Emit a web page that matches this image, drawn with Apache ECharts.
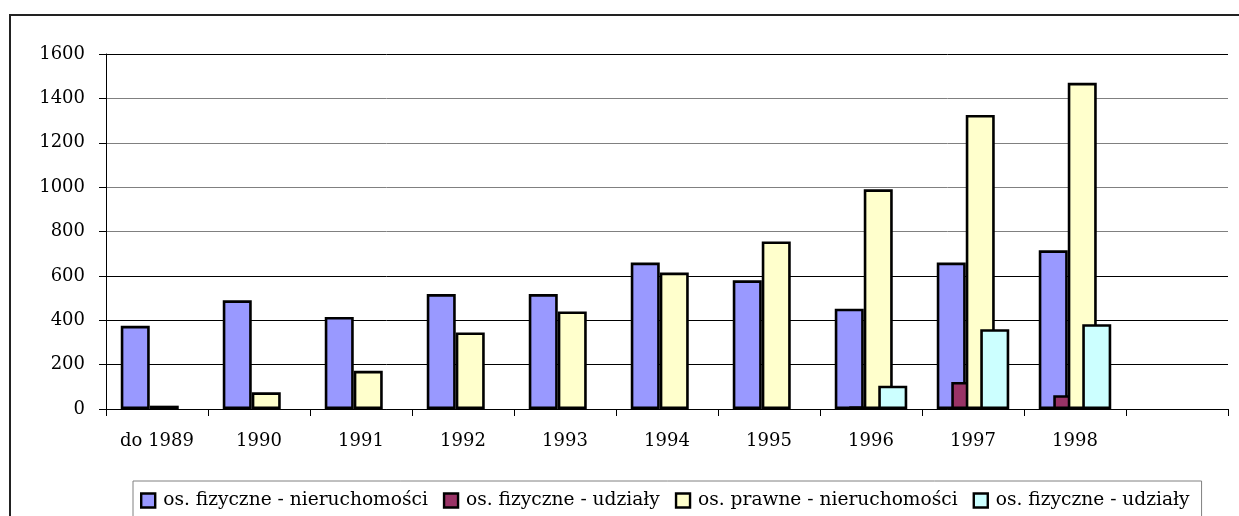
<!DOCTYPE html>
<html>
<head>
<meta charset="utf-8">
<script src="https://cdn.jsdelivr.net/npm/echarts@6/dist/echarts.min.js"></script>
<style>
  html, body { margin: 0; padding: 0; background: #fff; }
  #chart { width: 1239px; height: 516px; }
</style>
</head>
<body>
<div id="chart"></div>
<script>
// categories (last slot is empty in the original)
const years = ['do 1989', '1990', '1991', '1992', '1993', '1994', '1995', '1996', '1997', '1998', ''];

// series values
const fizNier = [375, 490, 415, 518, 518, 660, 580, 452, 660, 715, '-'];
const fizUdz = ['-', '-', '-', '-', '-', '-', '-', 12, 122, 62, '-'];
const prNier = [15, 75, 172, 345, 440, 615, 755, 990, 1325, 1470, '-'];
const fizUdz2 = ['-', '-', '-', '-', '-', '-', '-', 105, 360, 382, '-'];

const seriesKeys = ['fizNier', 'fizUdz', 'prNier', 'fizUdz2'];
const legendLabels = {
  fizNier: 'os. fizyczne - nieruchomości',
  fizUdz: 'os. fizyczne - udziały',
  prNier: 'os. prawne - nieruchomości',
  fizUdz2: 'os. fizyczne - udziały',
};

const COLORS = ['#9999FF', '#993366', '#FFFFCC', '#CCFFFF'];
const FONT = 'DejaVu Serif';

const chart = echarts.init(document.getElementById('chart'));

const mkBar = (key, data, i) => ({
  name: key,
  type: 'bar',
  data,
  barWidth: 29,
  barGap: '-50%',
  itemStyle: { color: COLORS[i], borderColor: '#000', borderWidth: 2.6 },
});

chart.setOption({
  animation: false,
  backgroundColor: '#fff',
  graphic: [{
    type: 'rect',
    shape: { x: 10, y: 15, width: 1240, height: 520 },
    style: { fill: 'none', stroke: '#222', lineWidth: 2 },
    silent: true,
  }],
  grid: { left: 106, right: 11, top: 54, bottom: 107 },
  legend: {
    data: seriesKeys,
    formatter: (name) => legendLabels[name],
    left: 133,
    top: 481,
    padding: [10, 12, 9, 7],
    itemWidth: 14,
    itemHeight: 14,
    itemGap: 15,
    borderColor: '#808080',
    borderWidth: 1,
    icon: 'rect',
    itemStyle: { borderColor: '#000', borderWidth: 2.4 },
    textStyle: { fontFamily: FONT, fontSize: 18.6, color: '#000', padding: [0, 0, 0, 3] },
  },
  xAxis: {
    type: 'category',
    data: years,
    axisLine: { lineStyle: { color: '#000', width: 1 } },
    axisTick: { show: true, length: 7, lineStyle: { color: '#000' } },
    axisLabel: { color: '#000', fontFamily: FONT, fontSize: 18, margin: 23 },
  },
  yAxis: {
    type: 'value',
    min: 0,
    max: 1600,
    interval: 200,
    axisLine: { show: true, lineStyle: { color: '#000', width: 1 } },
    axisTick: { show: true, length: 7, lineStyle: { color: '#000' } },
    axisLabel: {
      color: '#000', fontFamily: FONT, fontSize: 18, margin: 21,
      formatter: (v) => String(v),
    },
    splitLine: {
      lineStyle: {
        color: ['#000', '#000', '#000', '#000', '#808080', '#808080', '#808080', '#808080', '#000'],
        width: 1,
      },
    },
  },
  series: [
    mkBar('fizNier', fizNier, 0),
    mkBar('fizUdz', fizUdz, 1),
    mkBar('prNier', prNier, 2),
    mkBar('fizUdz2', fizUdz2, 3),
  ],
});
</script>
</body>
</html>
